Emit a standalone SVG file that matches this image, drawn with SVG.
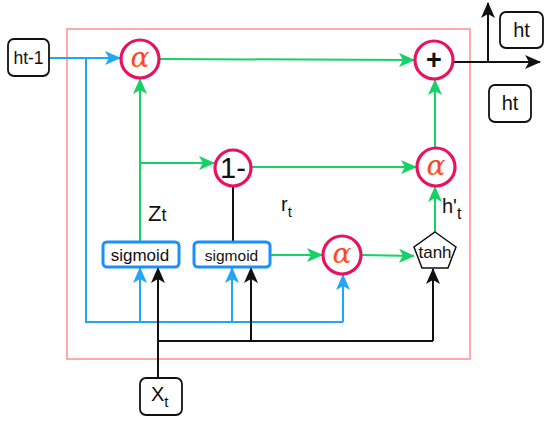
<svg xmlns="http://www.w3.org/2000/svg" width="550" height="421" viewBox="0 0 550 421">
<style>
.frame{fill:none;stroke:#ffaaaa;stroke-width:2}
.box{fill:#fff;stroke:#111;stroke-width:1.8}
.sig{fill:#fff;stroke:#1a8fff;stroke-width:3}
.op{fill:#fff;stroke:#e8125f;stroke-width:3.2}
.t{font-family:"Liberation Sans",Arial,sans-serif;fill:#111}
.alpha{font-family:"DejaVu Serif","Liberation Serif",serif;font-style:italic;font-size:28px;fill:url(#ag)}
.g{fill:none;stroke:#14d265;stroke-width:2}
.b{fill:none;stroke:#21a6f5;stroke-width:2}
.k{fill:none;stroke:#111;stroke-width:2}
</style>
<defs>
<linearGradient id="ag" x1="0" y1="0" x2="0" y2="1">
<stop offset="0" stop-color="#ff2a2a"/>
<stop offset="0.7" stop-color="#ff4d1f"/>
<stop offset="1" stop-color="#ffa000"/>
</linearGradient>
<marker id="ag1" viewBox="0 0 16 14" refX="15" refY="7" markerWidth="16" markerHeight="14" markerUnits="userSpaceOnUse" orient="auto"><path d="M0,0 L16,7 L0,14 L4,7 Z" fill="#14d265"/></marker>
<marker id="ab1" viewBox="0 0 16 14" refX="15" refY="7" markerWidth="16" markerHeight="14" markerUnits="userSpaceOnUse" orient="auto"><path d="M0,0 L16,7 L0,14 L4,7 Z" fill="#21a6f5"/></marker>
<marker id="ak1" viewBox="0 0 16 14" refX="15" refY="7" markerWidth="16" markerHeight="14" markerUnits="userSpaceOnUse" orient="auto"><path d="M0,0 L16,7 L0,14 L4,7 Z" fill="#111"/></marker>
</defs>
<rect width="550" height="421" fill="#fff"/>
<rect class="frame" x="67" y="29" width="403" height="330"/>

<g id="connectors">
<!-- blue -->
<path class="b" d="M49,58 L120,58" marker-end="url(#ab1)"/>
<path class="b" d="M86,58 L86,322 L343,322"/>
<path class="b" d="M140,322 L140,268" marker-end="url(#ab1)"/>
<path class="b" d="M232,322 L232,268" marker-end="url(#ab1)"/>
<path class="b" d="M343,322 L343,275" marker-end="url(#ab1)"/>
<!-- black -->
<path class="k" d="M158,378 L158,268" marker-end="url(#ak1)"/>
<path class="k" d="M158,341 L433,341"/>
<path class="k" d="M251,341 L251,268" marker-end="url(#ak1)"/>
<path class="k" d="M433,341 L433,269" marker-end="url(#ak1)"/>
<path class="k" d="M233,187 L233,242"/>
<path class="k" d="M453,62 L540,62" marker-end="url(#ak1)"/>
<path class="k" d="M488,62 L488,3" marker-end="url(#ak1)"/>
<!-- green -->
<path class="g" d="M140,242 L140,79" marker-end="url(#ag1)"/>
<path class="g" d="M160,59 L414,60" marker-end="url(#ag1)"/>
<path class="g" d="M140,163 L214,163" marker-end="url(#ag1)"/>
<path class="g" d="M252,167 L416,167" marker-end="url(#ag1)"/>
<path class="g" d="M435,147 L435,80" marker-end="url(#ag1)"/>
<path class="g" d="M435,232 L435,187" marker-end="url(#ag1)"/>
<path class="g" d="M270,255 L322,255" marker-end="url(#ag1)"/>
<path class="g" d="M362,255 L414,256" marker-end="url(#ag1)"/>
</g>

<g id="ht-1">
<rect class="box" x="8" y="39" width="41" height="37" rx="6"/>
<text class="t" x="28.5" y="64" font-size="17.5" text-anchor="middle">ht-1</text>
</g>
<g id="alpha1">
<circle class="op" cx="140" cy="59" r="19"/>
<text class="alpha" x="140" y="67" text-anchor="middle">α</text>
</g>
<g id="plus">
<circle class="op" cx="434" cy="60" r="19"/>
<text class="t" x="434" y="69" font-size="27" font-weight="bold" text-anchor="middle">+</text>
</g>
<g id="one-minus">
<circle class="op" cx="233" cy="168" r="18"/>
<text class="t" x="233" y="178" font-size="29" text-anchor="middle">1-</text>
</g>
<g id="alpha2">
<circle class="op" cx="436" cy="167" r="19"/>
<text class="alpha" x="436" y="175" text-anchor="middle">α</text>
</g>
<g id="alpha3">
<circle class="op" cx="342" cy="255" r="19"/>
<text class="alpha" x="342" y="263" text-anchor="middle">α</text>
</g>
<g id="tanh">
<polygon points="435,232 456,247 448,268 422,268 414,247" fill="#fff" stroke="#111" stroke-width="1.5"/>
<text class="t" x="435" y="258" font-size="17" text-anchor="middle">tanh</text>
</g>
<g id="sigmoid1">
<rect class="sig" x="103" y="242" width="76" height="25" rx="4"/>
<text class="t" x="140" y="261" font-size="17" text-anchor="middle">sigmoid</text>
</g>
<g id="sigmoid2">
<rect class="sig" x="194" y="242" width="76" height="25" rx="4"/>
<text class="t" x="231.5" y="260.5" font-size="15.5" text-anchor="middle">sigmoid</text>
</g>
<g id="ht-top">
<rect class="box" x="500" y="12" width="43" height="36" rx="6"/>
<text class="t" x="521.5" y="37" font-size="20" text-anchor="middle">ht</text>
</g>
<g id="ht-right">
<rect class="box" x="489" y="85" width="42" height="37" rx="6"/>
<text class="t" x="510" y="110" font-size="20" text-anchor="middle">ht</text>
</g>
<g id="xt">
<rect class="box" x="140" y="378" width="42" height="37" rx="6"/>
<text class="t" x="151" y="401" font-size="20">X<tspan font-size="15" dy="6">t</tspan></text>
</g>
<g id="labels">
<text class="t" x="148" y="221" font-size="22">Z<tspan font-size="18">t</tspan></text>
<text class="t" x="281" y="211" font-size="20">r<tspan font-size="15" dy="6">t</tspan></text>
<text class="t" x="442" y="213" font-size="20">h'<tspan font-size="16" dy="6">t</tspan></text>
</g>
</svg>
